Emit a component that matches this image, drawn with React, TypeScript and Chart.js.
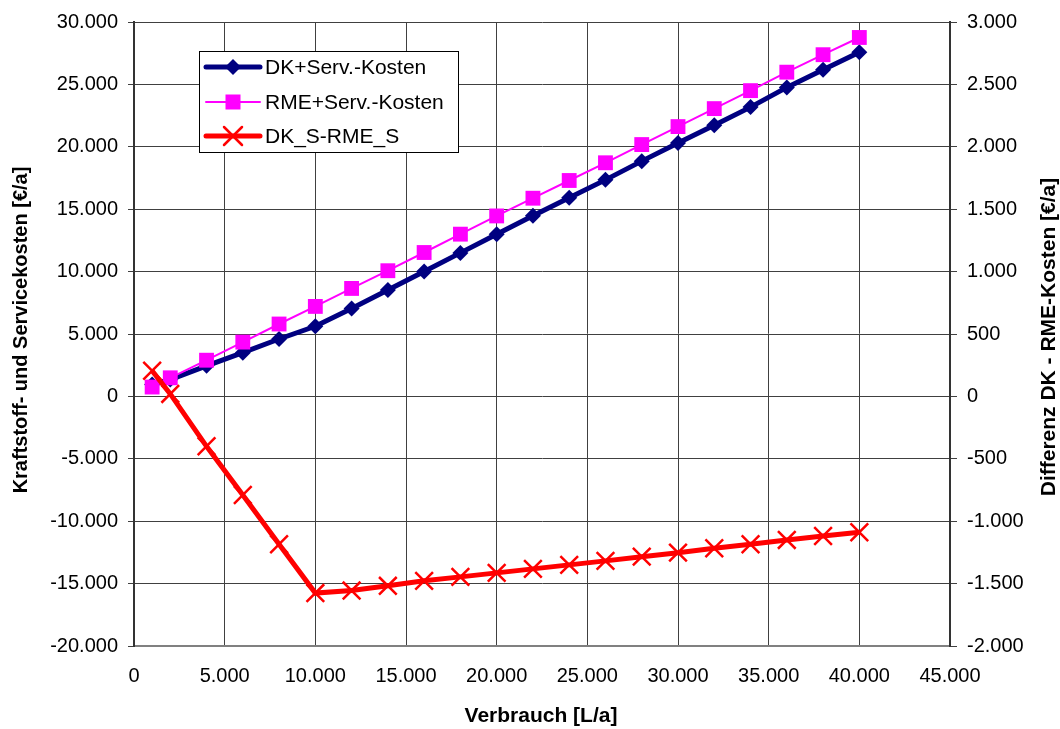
import React, { useEffect, useRef } from 'react';
import { Chart, registerables } from 'chart.js';

Chart.register(...registerables);

const verbrauch = [1000, 2000, 4000, 6000, 8000, 10000, 12000, 14000, 16000, 18000, 20000, 22000, 24000, 26000, 28000, 30000, 32000, 34000, 36000, 38000, 40000];
const dkServKosten = [950, 1350, 2450, 3500, 4600, 5620, 7050, 8520, 10010, 11500, 13000, 14480, 15920, 17350, 18850, 20310, 21720, 23180, 24760, 26180, 27580];
const rmeServKosten = [750, 1490, 2900, 4350, 5800, 7210, 8650, 10070, 11530, 13000, 14460, 15880, 17300, 18720, 20180, 21620, 23060, 24500, 25980, 27380, 28760];
const dkMinusRme = [205, 20, -400, -790, -1185, -1576, -1556, -1518, -1478, -1446, -1414, -1382, -1350, -1318, -1284, -1252, -1217, -1185, -1150, -1118, -1089];

const seriesLabels = ['DK+Serv.-Kosten', 'RME+Serv.-Kosten', 'DK_S-RME_S'];
const leftTitle = 'Kraftstoff- und Servicekosten [€/a]';
const rightTitle = 'Differenz DK - RME-Kosten [€/a]';
const xTitle = 'Verbrauch [L/a]';

const FONT = '"Liberation Sans", Arial, Helvetica, sans-serif';
const GRID = '#404040';

function fmt(v: number): string {
  const s = Math.abs(Math.round(v)).toString().replace(/\B(?=(\d{3})+(?!\d))/g, '.');
  return (v < 0 ? '-' : '') + s;
}

function drawMarker(ctx: CanvasRenderingContext2D, kind: string, x: number, y: number, color: string) {
  ctx.save();
  ctx.fillStyle = color;
  ctx.strokeStyle = color;
  if (kind === 'diamond') {
    const r = 8;
    ctx.beginPath();
    ctx.moveTo(x, y - r);
    ctx.lineTo(x + r, y);
    ctx.lineTo(x, y + r);
    ctx.lineTo(x - r, y);
    ctx.closePath();
    ctx.fill();
  } else if (kind === 'square') {
    const h = 7.5;
    ctx.fillRect(x - h, y - h, 2 * h, 2 * h);
  } else {
    const h = 9;
    ctx.lineWidth = 2.5;
    ctx.beginPath();
    ctx.moveTo(x - h, y - h);
    ctx.lineTo(x + h, y + h);
    ctx.moveTo(x - h, y + h);
    ctx.lineTo(x + h, y - h);
    ctx.stroke();
  }
  ctx.restore();
}

const decorPlugin = {
  id: 'decor',
  afterDraw(chart: any) {
    const ctx: CanvasRenderingContext2D = chart.ctx;
    ctx.save();
    // legend box
    const bx = 199, by = 51, bw = 259, bh = 101;
    ctx.fillStyle = '#ffffff';
    ctx.fillRect(bx, by, bw, bh);
    ctx.strokeStyle = '#000000';
    ctx.lineWidth = 1;
    ctx.strokeRect(bx + 0.5, by + 0.5, bw, bh);
    const rows = [67, 102, 136];
    const kinds = ['diamond', 'square', 'cross'];
    chart.data.datasets.forEach((ds: any, i: number) => {
      const y = rows[i];
      ctx.strokeStyle = ds.borderColor;
      ctx.lineWidth = ds.borderWidth;
      ctx.lineCap = 'round';
      ctx.beginPath();
      ctx.moveTo(206, y);
      ctx.lineTo(260, y);
      ctx.stroke();
      drawMarker(ctx, kinds[i], 233, y, ds.borderColor);
      ctx.fillStyle = '#000000';
      ctx.font = `21px ${FONT}`;
      ctx.textAlign = 'left';
      ctx.textBaseline = 'middle';
      ctx.fillText(ds.label, 265, y + 1);
    });
    // axis titles
    ctx.fillStyle = '#000000';
    ctx.textAlign = 'center';
    ctx.textBaseline = 'middle';
    ctx.font = `bold 20px ${FONT}`;
    ctx.save();
    ctx.translate(21, 330);
    ctx.rotate(-Math.PI / 2);
    ctx.fillText(leftTitle, 0, 0);
    ctx.restore();
    ctx.font = `bold 21px ${FONT}`;
    ctx.save();
    ctx.translate(1049, 337);
    ctx.rotate(-Math.PI / 2);
    ctx.fillText(rightTitle, 0, 0);
    ctx.restore();
    ctx.fillText(xTitle, 541, 716);
    ctx.restore();
  },
};

export default function App() {
  const ref = useRef<HTMLCanvasElement | null>(null);
  useEffect(() => {
    if (!ref.current) return;
    const pts = (ys: number[]) => verbrauch.map((x, i) => ({ x, y: ys[i] }));
    const chart = new Chart(ref.current, {
      type: 'line',
      data: {
        datasets: [
          {
            label: seriesLabels[0],
            data: pts(dkServKosten),
            borderColor: '#000080',
            backgroundColor: '#000080',
            borderWidth: 5,
            pointStyle: 'rectRot',
            pointRadius: 8,
            pointBorderWidth: 0,
            yAxisID: 'y',
            order: 2,
          },
          {
            label: seriesLabels[1],
            data: pts(rmeServKosten),
            borderColor: '#ff00ff',
            backgroundColor: '#ff00ff',
            borderWidth: 2,
            pointStyle: 'rect',
            pointRadius: 10.5,
            pointBorderWidth: 0,
            yAxisID: 'y',
            order: 1,
          },
          {
            label: seriesLabels[2],
            data: pts(dkMinusRme),
            borderColor: '#ff0000',
            backgroundColor: '#ff0000',
            borderWidth: 5,
            pointStyle: 'crossRot',
            pointRadius: 12.5,
            pointBorderWidth: 2.5,
            yAxisID: 'y1',
            order: 0,
          },
        ],
      },
      options: {
        responsive: false,
        animation: false,
        events: [],
        layout: { padding: { top: 21, left: 0, right: 0, bottom: 0 } },
        plugins: {
          legend: { display: false },
          tooltip: { enabled: false },
          title: { display: false },
        },
        elements: { line: { tension: 0, fill: false } },
        scales: {
          x: {
            type: 'linear',
            min: 0,
            max: 45000,
            ticks: {
              stepSize: 5000,
              color: '#000',
              font: { family: FONT, size: 20 },
              padding: 18,
              maxRotation: 0,
              callback: (v: any) => fmt(Number(v)),
            },
            grid: { color: GRID, lineWidth: 1, drawTicks: false },
            border: { display: true, color: '#808080', width: 2 },
            afterFit: (s: any) => { s.height = 83; },
          },
          y: {
            type: 'linear',
            position: 'left',
            min: -20000,
            max: 30000,
            ticks: {
              stepSize: 5000,
              color: '#000',
              font: { family: FONT, size: 20 },
              padding: 10,
              callback: (v: any) => fmt(Number(v)),
            },
            grid: { color: GRID, lineWidth: 1, tickLength: 6 },
            border: { display: true, color: '#333', width: 2 },
            afterFit: (s: any) => { s.width = 134; },
          },
          y1: {
            type: 'linear',
            position: 'right',
            min: -2000,
            max: 3000,
            ticks: {
              stepSize: 500,
              color: '#000',
              font: { family: FONT, size: 20 },
              padding: 10,
              callback: (v: any) => fmt(Number(v)),
            },
            grid: { drawOnChartArea: false, color: GRID, tickLength: 7 },
            border: { display: true, color: '#333', width: 2 },
            afterFit: (s: any) => { s.width = 110; },
          },
        },
      } as any,
      plugins: [decorPlugin],
    });
    return () => chart.destroy();
  }, []);
  return (
    <canvas
      ref={ref}
      width={1060}
      height={729}
      style={{ position: 'absolute', left: 0, top: 0, display: 'block', background: '#fff' }}
    />
  );
}
